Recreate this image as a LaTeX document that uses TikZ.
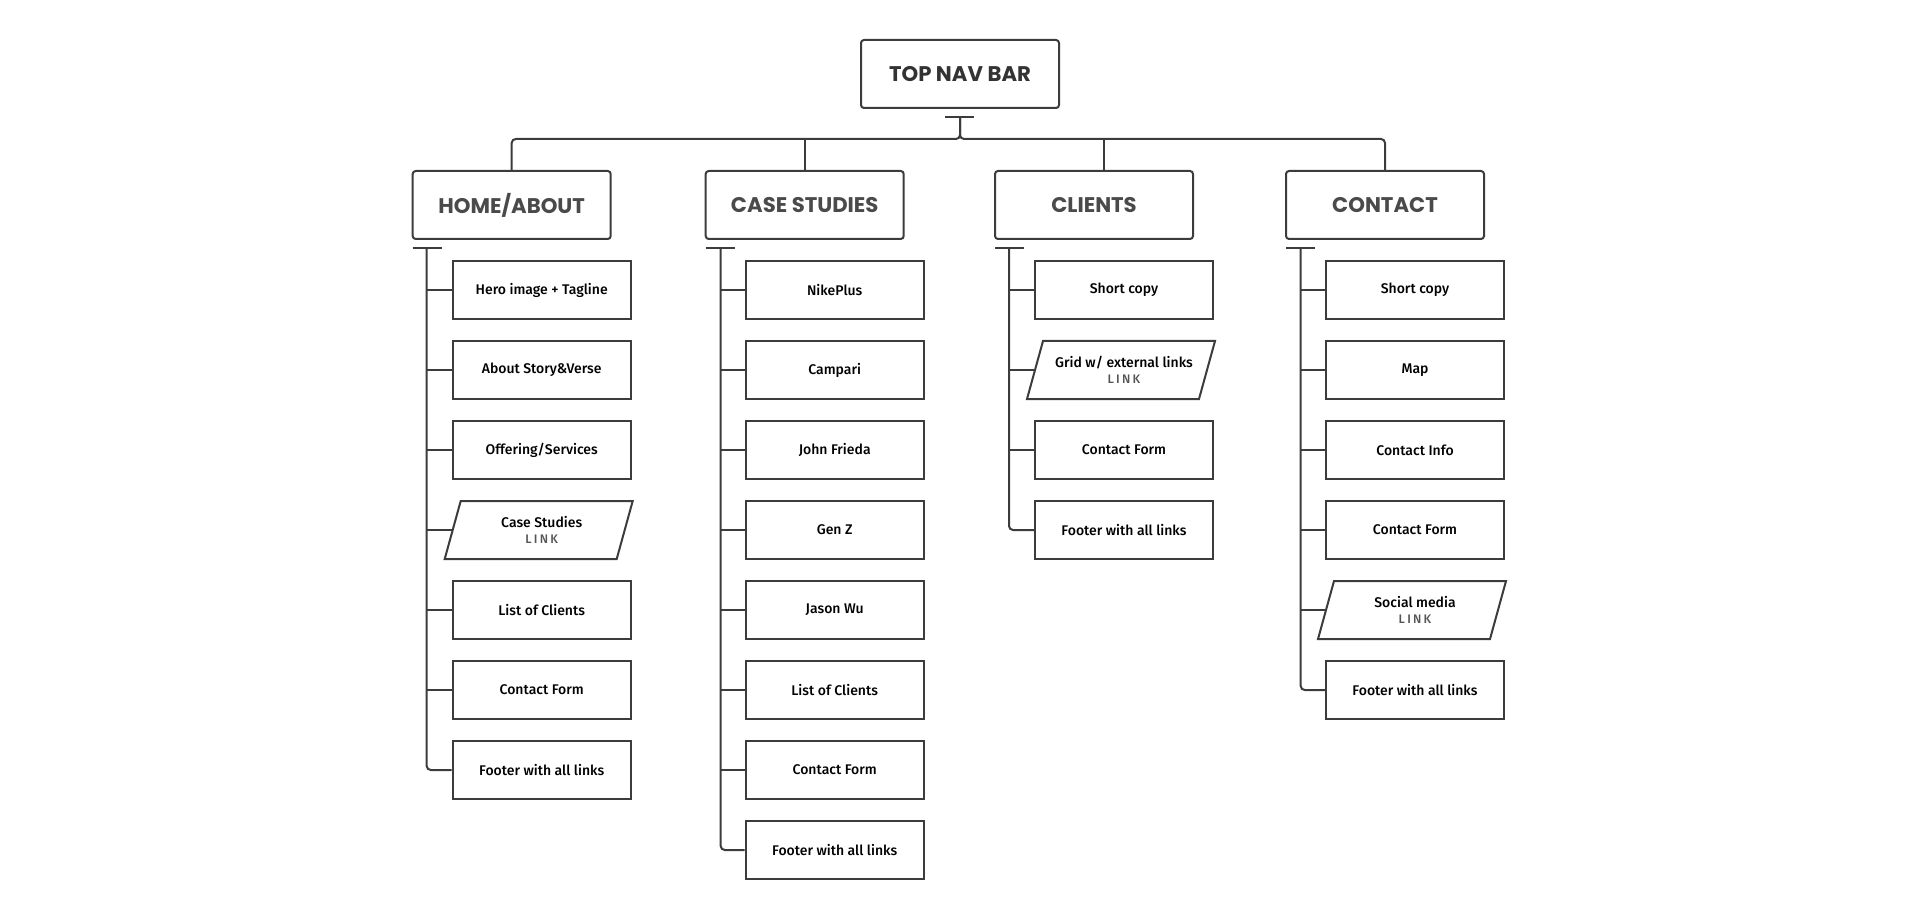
\documentclass[tikz,border=0pt]{standalone}
\usepackage{fontspec}
\newfontfamily\headfont{Poppins Bold}
\newfontfamily\leaffont{Fira Sans Medium}
\definecolor{linegray}{HTML}{3C3C3C}
\definecolor{navgray}{HTML}{333333}
\definecolor{headgray}{HTML}{4A4A4A}
\definecolor{linkgray}{HTML}{555555}
\newcommand{\linktag}{{\fontsize{6.2}{7}\selectfont\addfontfeature{LetterSpace=18}\color{linkgray}LINK}}
\tikzset{
	headbox/.style={draw=linegray, line width=1pt, rounded corners=1.5pt, minimum width=99pt, minimum height=34pt, inner sep=0pt, text=headgray, font=\headfont\fontsize{10.6}{12}\selectfont},
	leafbox/.style={draw=linegray, line width=1pt, minimum width=89pt, minimum height=29pt, inner sep=0pt, text=black, font=\leaffont\fontsize{7}{9}\selectfont},
	linkbox/.style={leafbox, draw=none, align=center, font=\leaffont\fontsize{7}{8}\selectfont},
	slant/.style={draw=linegray, line width=1pt},
	tree/.style={draw=linegray, line width=1pt, rounded corners=2pt}
}

\begin{document}
\begin{tikzpicture}[x=0.5pt, y=-0.5pt]
	\useasboundingbox (0,0) rectangle (1920,914);
	\node [headbox, text=navgray] (nav) at (960,74) {TOP NAV BAR};
	\coordinate (navT) at (960,117);
	\coordinate (bus) at (960,139);
	\draw [tree] (945,117) -- (974,117);
	\node [headbox] (home) at (511.7,205) {HOME/ABOUT};
	\node [headbox] (cases) at (804.7,205) {CASE STUDIES};
	\node [headbox] (clients) at (1094,205) {CLIENTS};
	\node [headbox] (contact) at (1385,205) {CONTACT};
	\draw [tree] (home.north) |- (bus) -- (navT);
	\draw [tree] (contact.north) |- (bus) -- (navT);
	\draw [tree] (cases.north) -- (cases.north |- bus);
	\draw [tree] ([xshift=4.75pt]clients.north) -- ([xshift=4.75pt]clients.north |- bus);

	\draw [tree] (412.7,248) -- (441.7,248);
	\foreach \r/\txt in {1/Hero image + Tagline, 2/About Story\&Verse, 3/{Offering/Services}, 5/List of Clients, 6/Contact Form, 7/Footer with all links}
		\node [leafbox] (h\r) at (541.7,210+80*\r) {\txt};
	\node [linkbox] (h4) at (541.7,530) {Case Studies\\\linktag};
	\draw [slant, shift={(h4.center)}] (-81,-29) -- (91,-29) -- (75,29) -- (-97,29) -- cycle;
	\foreach \r in {1,...,6}
		\draw [tree] (426.7,210+80*\r) -- (h\r.west);
	\draw [tree] (426.7,248) |- (h7.west);

	\draw [tree] (705.7,248) -- (734.7,248);
	\foreach \txt [count=\r] in {NikePlus, Campari, John Frieda, Gen Z, Jason Wu, List of Clients, Contact Form, Footer with all links}
		\node [leafbox] (s\r) at (834.7,210+80*\r) {\txt};
	\foreach \r in {1,...,7}
		\draw [tree] (720.7,210+80*\r) -- (s\r.west);
	\draw [tree] (720.7,248) |- (s8.west);

	\draw [tree] (995,248) -- (1024,248);
	\foreach \r/\txt in {1/Short copy, 3/Contact Form, 4/Footer with all links}
		\node [leafbox] (c\r) at (1124,210+80*\r) {\txt};
	\node [linkbox] (c2) at (1124,370) {Grid w/ external links\\\linktag};
	\draw [slant, shift={(c2.center)}] (-81,-29) -- (91,-29) -- (75,29) -- (-97,29) -- cycle;
	\foreach \r in {1,...,3}
		\draw [tree] (1009,210+80*\r) -- (c\r.west);
	\draw [tree] (1009,248) |- (c4.west);

	\draw [tree] (1286,248) -- (1315,248);
	\foreach \r/\txt in {1/Short copy, 2/Map, 3/Contact Info, 4/Contact Form, 6/Footer with all links}
		\node [leafbox] (k\r) at (1415,210+80*\r) {\txt};
	\node [linkbox] (k5) at (1415,610) {Social media\\\linktag};
	\draw [slant, shift={(k5.center)}] (-81,-29) -- (91,-29) -- (75,29) -- (-97,29) -- cycle;
	\foreach \r in {1,...,5}
		\draw [tree] (1300.7,210+80*\r) -- (k\r.west);
	\draw [tree] (1300.7,248) |- (k6.west);
\end{tikzpicture}
\end{document}
